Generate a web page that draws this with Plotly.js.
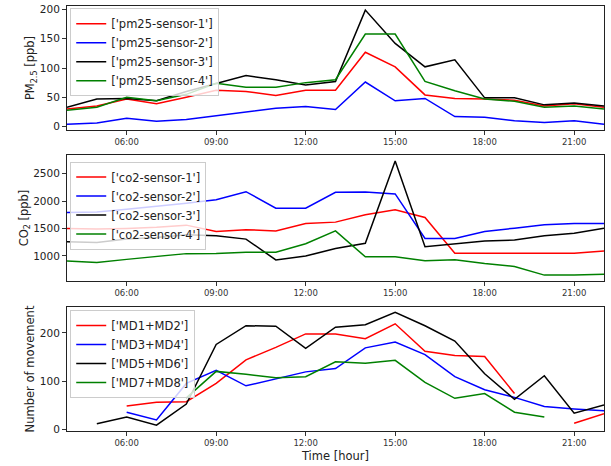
<!DOCTYPE html>
<html>
<head>
<meta charset="utf-8">
<script src="https://cdn.plot.ly/plotly-3.0.1.min.js"></script>
<style>
  html, body { margin: 0; padding: 0; background: #fff; }
  #chart { width: 611px; height: 466px; }
</style>
</head>
<body>
<div id="chart"></div>
<script>
// ---- data ----
const hours = ['04:00','05:00','06:00','07:00','08:00','09:00','10:00','11:00','12:00','13:00',
               '14:00','15:00','16:00','17:00','18:00','19:00','20:00','21:00','22:00'];

const pmNames = ["['pm25-sensor-1']", "['pm25-sensor-2']", "['pm25-sensor-3']", "['pm25-sensor-4']"];
const pm25_1 = [30, 35, 47, 39, 50, 62, 60, 53, 62, 62, 127, 102, 54, 48, 47, 45, 35, 39, 33];
const pm25_2 = [4, 6, 14, 9, 12, 18, 24, 31, 34, 29, 76, 44, 48, 17, 16, 10, 7, 10, 4];
const pm25_3 = [33, 47, 48, 44, 60, 73, 87, 80, 71, 77, 199, 142, 102, 114, 49, 49, 37, 40, 35];
const pm25_4 = [28, 33, 50, 44, 55, 74, 67, 67, 75, 80, 158, 158, 77, 61, 47, 43, 33, 35, 30];

const co2Names = ["['co2-sensor-1']", "['co2-sensor-2']", "['co2-sensor-3']", "['co2-sensor-4']"];
const co2_1 = [1500, 1490, 1500, 1520, 1560, 1445, 1477, 1455, 1590, 1615, 1750, 1840, 1700, 1045, 1048, 1045, 1045, 1048, 1090];
const co2_2 = [1790, 1800, 1850, 1900, 1960, 2025, 2170, 1870, 1870, 2160, 2165, 2130, 1318, 1318, 1445, 1505, 1565, 1590, 1590];
const co2_3 = [1255, 1245, 1305, 1335, 1385, 1365, 1305, 925, 995, 1135, 1230, 2730, 1165, 1212, 1272, 1288, 1365, 1410, 1505];
const co2_4 = [905, 878, 935, 982, 1040, 1043, 1065, 1065, 1220, 1455, 982, 982, 908, 930, 860, 805, 648, 650, 662];

const mdNames = ["['MD1+MD2']", "['MD3+MD4']", "['MD5+MD6']", "['MD7+MD8']"];
const md12 = [null, null, 48, 56, 57, 95, 144, 170, 198, 198, 188, 219, 162, 153, 151, 74, null, 12, 32];
const md34 = [null, null, 35, 19, 95, 122, 90, 104, 119, 126, 169, 181, 155, 109, 82, 66, 47, 42, 38];
const md56 = [null, 11, 25, 8, 52, 176, 215, 214, 168, 212, 217, 243, 215, 183, 115, 62, 111, 33, 50];
const md78 = [null, null, null, null, 65, 120, 114, 107, 109, 140, 137, 143, 97, 64, 74, 35, 25, null, null];

// ---- build ----
const day = '2021-01-01 ';
const xs = hours.map(h => day + h);
const colors = ['#ff0000', '#0000ff', '#000000', '#008000'];
const font = 'DejaVu Sans, sans-serif';

function mk(series, names, ax, leg) {
  return series.map((s, i) => ({
    x: xs, y: s, name: names[i], type: 'scatter', mode: 'lines',
    line: {color: colors[i], width: 1.5},
    xaxis: 'x' + (ax === 1 ? '' : ax), yaxis: 'y' + (ax === 1 ? '' : ax),
    legend: leg
  }));
}

const traces = [].concat(
  mk([pm25_1, pm25_2, pm25_3, pm25_4], pmNames, 1, 'legend'),
  mk([co2_1, co2_2, co2_3, co2_4], co2Names, 2, 'legend2'),
  mk([md12, md34, md56, md78], mdNames, 3, 'legend3')
);

function xax(anchor, title) {
  const a = {
    type: 'date', anchor: anchor, domain: [0, 1],
    range: [day + '04:00', day + '22:00'],
    tickformat: '%H:%M', dtick: 3 * 3600 * 1000, tick0: day + '00:00',
    ticks: 'outside', ticklen: 4, tickcolor: '#333',
    tickfont: {family: font, size: 8.5, color: '#333'},
    showline: true, linecolor: '#222', linewidth: 1, mirror: true,
    showgrid: false, zeroline: false
  };
  if (title) a.title = {text: title, font: {family: font, size: 11.5, color: '#222'}, standoff: 4};
  return a;
}
function yax(anchor, domain, range, tickvals, title) {
  return {
    anchor: anchor, domain: domain, range: range, tickvals: tickvals,
    ticks: 'outside', ticklen: 4, tickcolor: '#333',
    tickfont: {family: font, size: 10.5, color: '#222'},
    showline: true, linecolor: '#222', linewidth: 1, mirror: true,
    showgrid: false, zeroline: false,
    title: {text: title, font: {family: font, size: 11.5, color: '#222'}, standoff: 2}
  };
}
function leg(y) {
  return {
    x: 0.006, y: y, xanchor: 'left', yanchor: 'top',
    bgcolor: 'rgba(255,255,255,0.8)', bordercolor: '#cccccc', borderwidth: 1,
    font: {family: font, size: 11.5, color: '#222'}
  };
}

const layout = {
  width: 611, height: 466,
  margin: {l: 67, r: 7, t: 6, b: 35},
  paper_bgcolor: '#fff', plot_bgcolor: '#fff',
  showlegend: true,
  xaxis: xax('y'),
  xaxis2: xax('y2'),
  xaxis3: xax('y3', 'Time [hour]'),
  yaxis: yax('x', [0.7082, 1.0], [-6, 206], [0, 50, 100, 150, 200], 'PM<sub>2.5</sub> [ppb]'),
  yaxis2: yax('x2', [0.3529, 0.6494], [540, 2840], [1000, 1500, 2000, 2500], 'CO<sub>2</sub> [ppb]'),
  yaxis3: yax('x3', [0, 0.2918], [-4, 254], [0, 100, 200], 'Number of movement'),
  legend: leg(0.995),
  legend2: leg(0.634),
  legend3: leg(0.285)
};

Plotly.newPlot('chart', traces, layout, {displayModeBar: false, staticPlot: true});
</script>
</body>
</html>
